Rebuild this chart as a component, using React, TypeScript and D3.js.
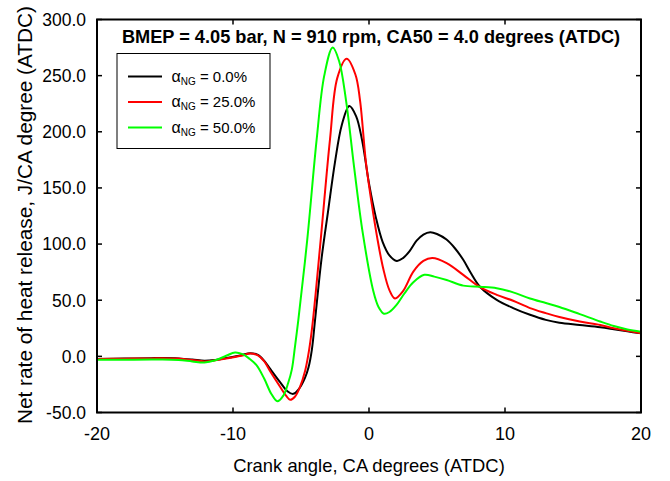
import React from "react";
import * as d3 from "d3";

const titleText = "BMEP = 4.05 bar, N = 910 rpm, CA50 = 4.0 degrees (ATDC)";
const xLabel = "Crank angle, CA degrees (ATDC)";
const yLabel = "Net rate of heat release, J/CA degree (ATDC)";
const xTicks = [-20, -10, 0, 10, 20];
const yTicks = [-50, 0, 50, 100, 150, 200, 250, 300];

const seriesNames = ["0.0%", "25.0%", "50.0%"];
const seriesColors = ["#000000", "#ff0000", "#00ff00"];

const ng0: [number, number][] = [
  [-20, -2.3], [-18, -2], [-16, -1.6], [-15.2, -1.5], [-14, -1.8], [-13, -2.8], [-12.1, -4],
  [-11.3, -3.2], [-10.5, -1.5], [-9.4, 1], [-8.75, 2.8], [-8.2, 1.5], [-7.7, -4], [-7.28, -11],
  [-6.54, -23], [-6, -31], [-5.57, -33.4], [-5.15, -29], [-4.7, -19], [-4.45, -10], [-4.2, 6],
  [-3.97, 32], [-3.5, 86], [-3, 130], [-2.5, 173], [-2, 206], [-1.45, 223],
  [-0.95, 214], [-0.5, 192], [0, 154], [0.5, 124], [1, 102], [1.5, 90], [2.04, 85], [2.5, 87.5],
  [3, 94], [3.5, 103], [4, 108.5], [4.5, 110.6], [5, 109], [5.7, 104], [6.3, 96.5], [6.93, 86],
  [7.5, 74], [8.16, 62], [9.39, 50.3], [10.6, 43], [11.84, 37], [13, 32.5], [14, 30], [15.5, 28],
  [17, 26], [18, 24.2], [19, 22.3], [20, 20.5],
];

const ng25: [number, number][] = [
  [-20, -2.3], [-18, -2.1], [-16, -1.8], [-15.2, -1.6], [-14, -2], [-13, -3.2], [-12.1, -4.5],
  [-11.3, -3.5], [-10.5, -2], [-9.4, 0.5], [-8.75, 2.5], [-8.2, 1], [-7.7, -4.5], [-7.28, -13],
  [-6.54, -27], [-6.1, -35], [-5.8, -38.7], [-5.45, -36], [-5.1, -28], [-4.7, -13], [-4.4, 6],
  [-4.14, 30], [-3.55, 104], [-2.87, 193], [-2.33, 248], [-1.64, 265], [-1, 251], [-0.66, 228],
  [-0.22, 172], [0.2, 136], [0.6, 106], [1.05, 78], [1.5, 59], [1.91, 51.5], [2.5, 58],
  [3.26, 75.5], [4, 85], [4.66, 87.5], [5.71, 83], [6.93, 72.6], [8.16, 61.6], [9.39, 54.8],
  [10.6, 49.5], [11.84, 43], [13, 38.5], [14, 35], [15.5, 31], [17, 28], [18, 25], [19, 22.8],
  [20, 20.6],
];

const ng50: [number, number][] = [
  [-20, -3], [-18, -3], [-16, -2.8], [-15.2, -2.7], [-14, -3.2], [-13, -4.5], [-12.1, -5.5],
  [-11.3, -3.5], [-10.5, 0.5], [-9.85, 3.5], [-9.3, 2], [-8.8, -2], [-8.26, -8], [-7.7, -20],
  [-7.2, -33], [-6.74, -40], [-6.3, -35], [-5.95, -24], [-5.68, -12], [-5.45, 8], [-5.2, 32],
  [-4.54, 104], [-3.85, 193], [-3.29, 250], [-2.67, 275], [-2.2, 263], [-1.69, 228],
  [-1.1, 169], [-0.46, 110], [0.32, 58], [0.7, 44], [1.1, 38], [1.5, 39.5], [2.04, 46],
  [2.6, 56], [3.26, 66], [4.07, 72.6], [4.8, 71], [5.71, 68], [6.93, 63], [8.16, 62],
  [9.39, 60.7], [10.6, 57], [11.84, 51.5], [13, 47.5], [14, 44], [15.5, 37.6], [17, 31], [18, 27],
  [19, 24], [20, 22],
];

const seriesData = [ng0, ng25, ng50];

export default function App() {
  const W = 670;
  const H = 481;
  const left = 97;
  const right = 641;
  const top = 19.5;
  const bottom = 412.5;
  const x = d3.scaleLinear().domain([-20, 20]).range([left, right]);
  const y = d3.scaleLinear().domain([-50, 300]).range([bottom, top]);
  const line = d3
    .line<[number, number]>()
    .x((d) => x(d[0]))
    .y((d) => y(d[1]))
    .curve(d3.curveCatmullRom.alpha(0.5));
  const font = "'Liberation Sans', Arial, Helvetica, sans-serif";
  const tl = 5;

  const legX = 117;
  const legY = 53.5;
  const legRows = [76.5, 102, 127.5];

  return (
    <svg
      width={W}
      height={H}
      style={{ position: "absolute", left: 0, top: 0, background: "#fff" }}
      fontFamily={font}
    >
      <rect x={0} y={0} width={W} height={H} fill="#fff" />
      <defs>
        <clipPath id="plotclip">
          <rect x={left} y={top} width={right - left} height={bottom - top} />
        </clipPath>
      </defs>
      <g clipPath="url(#plotclip)">
        {seriesData.map((s, i) => (
          <path
            key={i}
            d={line(s) || ""}
            fill="none"
            stroke={seriesColors[i]}
            strokeWidth={2}
            strokeLinejoin="round"
          />
        ))}
      </g>
      {yTicks.map((t) => (
        <g key={"y" + t}>
          <line x1={left} x2={left + tl} y1={y(t)} y2={y(t)} stroke="#000" strokeWidth={1.5} />
          <line x1={right} x2={right - tl} y1={y(t)} y2={y(t)} stroke="#000" strokeWidth={1.5} />
          <text x={86} y={y(t)} dy="0.36em" textAnchor="end" fontSize={17.5} fill="#000">
            {t.toFixed(1)}
          </text>
        </g>
      ))}
      {xTicks.map((t) => (
        <g key={"x" + t}>
          <line x1={x(t)} x2={x(t)} y1={bottom} y2={bottom - tl} stroke="#000" strokeWidth={1.5} />
          <line x1={x(t)} x2={x(t)} y1={top} y2={top + tl} stroke="#000" strokeWidth={1.5} />
          <text x={x(t)} y={439.5} textAnchor="middle" fontSize={18} fill="#000">
            {t}
          </text>
        </g>
      ))}
      <rect
        x={left}
        y={top}
        width={right - left}
        height={bottom - top}
        fill="none"
        stroke="#000"
        strokeWidth={2}
      />
      <text
        x={(left + right) / 2 + 2}
        y={43}
        textAnchor="middle"
        fontSize={18.2}
        fontWeight="bold"
        fill="#000"
      >
        {titleText}
      </text>
      <rect x={legX} y={legY} width={153} height={95} fill="#fff" stroke="#000" strokeWidth={1} />
      {seriesNames.map((n, i) => (
        <g key={n}>
          <line
            x1={128}
            x2={162}
            y1={legRows[i]}
            y2={legRows[i]}
            stroke={seriesColors[i]}
            strokeWidth={2}
          />
          <text x={171.5} y={legRows[i] + 5} fontSize={15} fill="#000">
            <tspan fontSize={16}>α</tspan>
            <tspan fontSize={10} dy={3}>NG</tspan>
            <tspan dy={-3}>{" = " + n}</tspan>
          </text>
        </g>
      ))}
      <text x={(left + right) / 2} y={472} textAnchor="middle" fontSize={18.4} fill="#000">
        {xLabel}
      </text>
      <text
        transform={`translate(32,215) rotate(-90)`}
        textAnchor="middle"
        fontSize={20.8}
        fill="#000"
      >
        {yLabel}
      </text>
    </svg>
  );
}
